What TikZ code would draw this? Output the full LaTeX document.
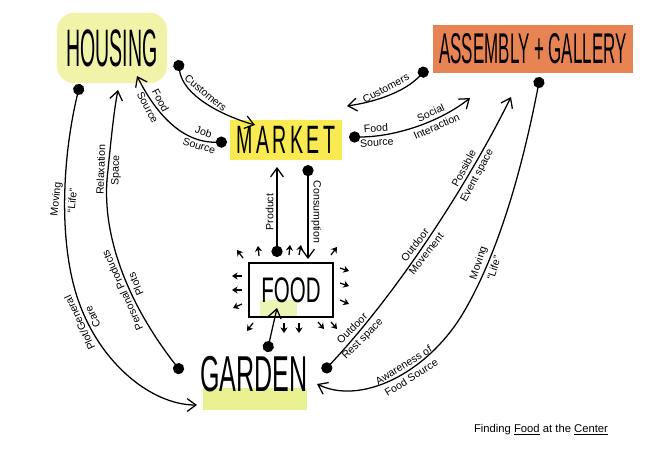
\documentclass[tikz,border=0pt]{standalone}
\usepackage{fontspec}
\setmainfont{Liberation Sans}
\usetikzlibrary{arrows.meta}

\definecolor{houseyellow}{RGB}{241,243,168}
\definecolor{marketyellow}{RGB}{248,234,80}
\definecolor{galleryorange}{RGB}{232,132,84}
\definecolor{gardengreen}{RGB}{232,242,145}
\definecolor{foodgreen}{RGB}{236,244,182}

\begin{document}
\begin{tikzpicture}[x=0.025cm, y=-0.025cm,
    link/.style={line width=0.9pt, -{Straight Barb[length=2.2mm,width=3.2mm]}},
    dotlink/.style={link, {Circle[length=2.8mm]}-{Straight Barb[length=2.2mm,width=3.2mm]}},
    lbl/.style={font=\fontsize{7.5}{8}\selectfont, inner sep=2pt},
    sprout/.style={line width=0.9pt, -{Stealth[length=1.4mm,width=1.8mm]}},
    place/.style={inner sep=0pt}]
    \useasboundingbox (0,0) rectangle (669,468);
    \fill[white] (0,0) rectangle (669,468);

    % Places
    \node[place, fill=houseyellow, rounded corners=12pt, minimum width=2.75cm, minimum height=1.75cm] (housing) at (112,48) {\resizebox{2.28cm}{0.92cm}{HOUSING}};
    \node[place, fill=galleryorange, minimum width=5cm, minimum height=1.2cm] (gallery) at (533,49) {\resizebox{4.68cm}{0.75cm}{ASSEMBLY + GALLERY}};
    \node[place, fill=marketyellow, minimum width=2.8cm, minimum height=1cm] (market) at (286,140) {\resizebox{2.45cm}{0.68cm}{M\,A\,R\,K\,E\,T}};
    \fill[foodgreen] (260,300) rectangle (297,316);
    \node[place, draw, line width=1.8pt, minimum width=2.1cm, minimum height=1.35cm] (food) at (291,290) {\resizebox{1.48cm}{0.62cm}{FOOD}};
    \fill[gardengreen] (203,388) rectangle (307,410);
    \node[place] (garden) at (254,374) {\resizebox{2.68cm}{0.88cm}{GARDEN}};
    \node[font=\fontsize{8}{10}\selectfont] (caption) at (541,430) {Finding \underline{Food} at the \underline{Center}};

    % Connector ends
    \coordinate (hCust) at (178,60);
    \coordinate (mCust) at (255,125);
    \coordinate (mJob) at (227,142);
    \coordinate (hIn1) at (137,76);
    \coordinate (gCust) at (427,68);
    \coordinate (mCust2) at (347,106);
    \coordinate (mSoc) at (349,137);
    \coordinate (gIn1) at (470,98);
    \coordinate (fProd) at (277,257);
    \coordinate (mProd) at (277,167);
    \coordinate (mCons) at (308,165);
    \coordinate (fCons) at (308,259);
    \coordinate (gdFood) at (267,352);
    \coordinate (fIn) at (277,308);
    \coordinate (hLife) at (80,84);
    \coordinate (gdIn1) at (197,405);
    \coordinate (gdOut1) at (182,373);
    \coordinate (hIn2) at (118,90);
    \coordinate (gdOut2) at (323,372);
    \coordinate (gIn2) at (511,97);
    \coordinate (gOut) at (540,77);
    \coordinate (gdIn2) at (317,384);

    % Market links
    \draw[dotlink] (hCust) .. controls (183,95) and (220,115) .. (mCust)
        node[lbl, pos=.45, rotate=-40, above] {Customers};
    \draw[dotlink] (mJob) .. controls (185,143) and (158,118) .. (hIn1)
        node[lbl, pos=.22, rotate=-18, above] {Job}
        node[lbl, pos=.22, rotate=-18, below] {Source}
        node[lbl, pos=.75, rotate=-62, above] {Food}
        node[lbl, pos=.75, rotate=-62, below] {Source};
    \draw[dotlink] (gCust) .. controls (405,92) and (375,102) .. (mCust2)
        node[lbl, pos=.5, rotate=28, above] {Customers};
    \draw[dotlink] (mSoc) .. controls (395,137) and (440,122) .. (gIn1)
        node[lbl, pos=.2, rotate=4, above] {Food}
        node[lbl, pos=.2, rotate=4, below] {Source}
        node[lbl, pos=.65, rotate=24, above] {Social}
        node[lbl, pos=.65, rotate=24, below] {Interaction};

    % Food links
    \draw[dotlink] (fProd) -- (mProd)
        node[lbl, midway, rotate=90, above] {Product};
    \draw[dotlink] (mCons) -- (fCons)
        node[lbl, midway, rotate=-90, above] {Consumption};
    \draw[dotlink] (gdFood) -- (fIn);
    \foreach \x/\y/\dx/\dy in {243/258/-6/-8, 259/256/-1/-10, 289/255/1/-10, 299/255/2/-10, 331/255/6/-8,
        242/276/-10/0, 242/290/-10/0, 242/304/-9/4,
        253/323/-6/8, 284/323/0/10, 299/323/0/10, 318/322/6/7, 331/322/6/7,
        340/268/9/3, 340/283/9/3, 340/300/9/4}
        \draw[sprout] (\x,\y) -- ++(\dx,\dy);

    % Garden links
    \draw[dotlink] (hLife) .. controls (64,150) and (58,230) .. (75,290)
        node[lbl, pos=.55, rotate=84, above] {Moving}
        node[lbl, pos=.55, rotate=84, below] {``Life''}
        .. controls (95,360) and (150,405) .. (gdIn1)
        node[lbl, pos=.15, rotate=115, above] {Plot/General}
        node[lbl, pos=.15, rotate=115, below] {Care};
    \draw[dotlink] (gdOut1) .. controls (125,300) and (100,230) .. (108,170)
        node[lbl, pos=.4, rotate=114, above] {Personal Products}
        node[lbl, pos=.4, rotate=114, below] {Plots}
        .. controls (111,140) and (114,110) .. (hIn2)
        node[lbl, pos=0, rotate=88, above] {Relaxation}
        node[lbl, pos=0, rotate=88, below] {Space};
    \draw[dotlink] (gdOut2) .. controls (400,290) and (470,180) .. (gIn2)
        node[lbl, pos=.15, rotate=45, above] {Outdoor}
        node[lbl, pos=.15, rotate=45, below] {Rest space}
        node[lbl, pos=.45, rotate=52, above] {Outdoor}
        node[lbl, pos=.45, rotate=52, below] {Movement}
        node[lbl, pos=.72, rotate=62, above] {Possible}
        node[lbl, pos=.72, rotate=62, below] {Event space};
    \draw[dotlink] (gOut) .. controls (522,170) and (498,255) .. (462,315)
        node[lbl, pos=.75, rotate=72, above] {Moving}
        node[lbl, pos=.75, rotate=72, below] {``Life''}
        .. controls (425,375) and (360,405) .. (gdIn2)
        node[lbl, pos=.4, rotate=32, above] {Awareness of}
        node[lbl, pos=.4, rotate=32, below] {Food Source};
\end{tikzpicture}
\end{document}
